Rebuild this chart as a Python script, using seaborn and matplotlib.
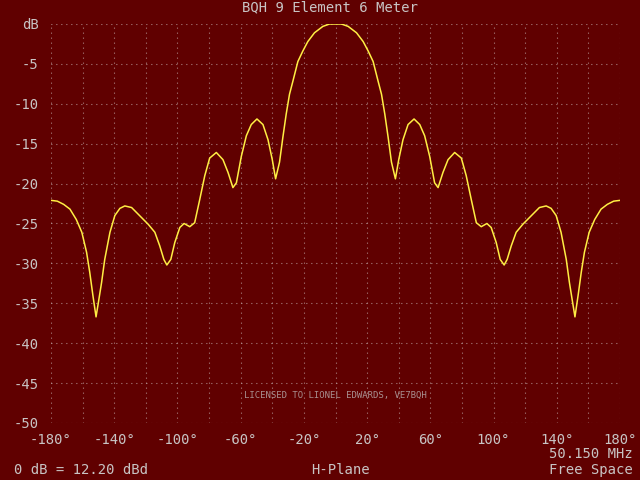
import matplotlib
matplotlib.use("Agg")
import matplotlib.pyplot as plt
import seaborn as sns
import pandas as pd

# azimuth (deg) and relative gain (dB)
angles = [
    -180, -176, -172, -168, -164, -160.5, -157.5, -155.5, -153.5, -151.5,
    -149.7, -148, -146, -142.7, -139.6, -136.4, -133.3, -129, -124, -118.5,
    -114.3, -111.2, -108.6, -106.7, -104.2, -101.7, -98.5, -95.8, -92.2, -89.1,
    -85.9, -82.7, -79.6, -75.4, -71.2, -68, -64.9, -62.7, -59.6, -56.4,
    -53.3, -49.7, -45.9, -42.7, -40, -37.9, -35.4, -33.3, -31.2, -29.1,
    -27, -23.8, -20.7, -17.5, -13.3, -8, -3.8, 0,
    3.8, 8, 13.3, 17.5, 20.7, 23.8, 27, 29.1, 31.2, 33.3,
    35.4, 37.9, 40, 42.7, 45.9, 49.7, 53.3, 56.4, 59.6, 62.7,
    64.9, 68, 71.2, 75.4, 79.6, 82.7, 85.9, 89.1, 92.2, 95.8,
    98.5, 101.7, 104.2, 106.7, 108.6, 111.2, 114.3, 118.5, 124, 129,
    133.3, 136.4, 139.6, 142.7, 146, 148, 149.7, 151.5, 153.5, 155.5,
    157.5, 160.5, 164, 168, 172, 176, 180,
]
gain_db = [
    -22.1, -22.2, -22.6, -23.2, -24.5, -26.1, -28.6, -31.1, -34.0, -36.7,
    -34.5, -32.4, -29.5, -26.1, -24.0, -23.1, -22.8, -23.0, -24.0, -25.1,
    -26.1, -27.8, -29.5, -30.2, -29.5, -27.4, -25.5, -25.0, -25.4, -24.9,
    -22.0, -19.0, -16.8, -16.1, -17.0, -18.6, -20.5, -19.9, -16.6, -14.0,
    -12.6, -11.9, -12.6, -14.5, -17.0, -19.4, -17.3, -14.2, -11.3, -8.8,
    -7.2, -4.7, -3.4, -2.2, -1.1, -0.3, 0.0, 0.0,
    0.0, -0.3, -1.1, -2.2, -3.4, -4.7, -7.2, -8.8, -11.3, -14.2,
    -17.3, -19.4, -17.0, -14.5, -12.6, -11.9, -12.6, -14.0, -16.6, -19.9,
    -20.5, -18.6, -17.0, -16.1, -16.8, -19.0, -22.0, -24.9, -25.4, -25.0,
    -25.5, -27.4, -29.5, -30.2, -29.5, -27.8, -26.1, -25.1, -24.0, -23.0,
    -22.8, -23.1, -24.0, -26.1, -29.5, -32.4, -34.5, -36.7, -34.0, -31.1,
    -28.6, -26.1, -24.5, -23.2, -22.6, -22.2, -22.1,
]

x_ticks = list(range(-180, 181, 40))
x_labels = ["%d°" % a for a in x_ticks]
y_ticks = list(range(0, -51, -5))
y_labels = ["dB"] + [str(v) for v in y_ticks[1:]]

title = "BQH 9 Element 6 Meter"
license_txt = "LICENSED TO LIONEL EDWARDS, VE7BQH"

bg = "#600000"
txt = "#c8c4c4"
grid_c = "#c8b4b4"
line_c = "#ffee44"

sns.set_style("dark")
plt.rcParams["font.family"] = ["DejaVu Sans Mono"]
plt.rcParams["axes.unicode_minus"] = False

df = pd.DataFrame({"angle": angles, "gain": gain_db})

fig = plt.figure(figsize=(6.4, 4.8), dpi=100, facecolor=bg)
ax = fig.add_axes([51 / 640, 1 - 423 / 480, 569 / 640, 399 / 480])
ax.set_facecolor(bg)

sns.lineplot(data=df, x="angle", y="gain", sort=False, color=line_c,
             linewidth=1.1, ax=ax)

ax.set_xlim(-180, 180)
ax.set_ylim(-50, 0)
ax.set_xticks(x_ticks)
ax.set_xticklabels(x_labels)
ax.set_yticks(y_ticks)
ax.set_yticklabels(y_labels)
ax.set_xticks(range(-180, 181, 20), minor=True)
ax.tick_params(axis="both", which="both", length=0, colors=txt, labelsize=10)
ax.tick_params(axis="x", pad=7)
ax.tick_params(axis="y", pad=9)
ax.set_xlabel("")
ax.set_ylabel("")

for s in ax.spines.values():
    s.set_visible(False)

# dotted grid
for a in range(-180, 181, 20):
    ax.axvline(a, color=grid_c, linestyle=(0, (0.7, 3.8)), linewidth=0.8, zorder=0)
for v in y_ticks:
    ax.axhline(v, color=grid_c, linestyle=(0, (0.7, 3.8)), linewidth=0.8, zorder=0)
ax.grid(False)

fig.text(330 / 640, 1 - 7 / 480, title, ha="center", va="center", color=txt, fontsize=10)
ax.text(0, -46.5, license_txt, ha="center", va="center", color="#a89090", fontsize=6.5)
fig.text(633 / 640, 1 - 454 / 480, "50.150 MHz", ha="right", va="center", color=txt, fontsize=10)
fig.text(14 / 640, 1 - 470 / 480, "0 dB = 12.20 dBd", ha="left", va="center", color=txt, fontsize=10)
fig.text(340 / 640, 1 - 470 / 480, "H-Plane", ha="center", va="center", color=txt, fontsize=10)
fig.text(633 / 640, 1 - 470 / 480, "Free Space", ha="right", va="center", color=txt, fontsize=10)

fig.savefig("out.png", dpi=100, facecolor=bg)
